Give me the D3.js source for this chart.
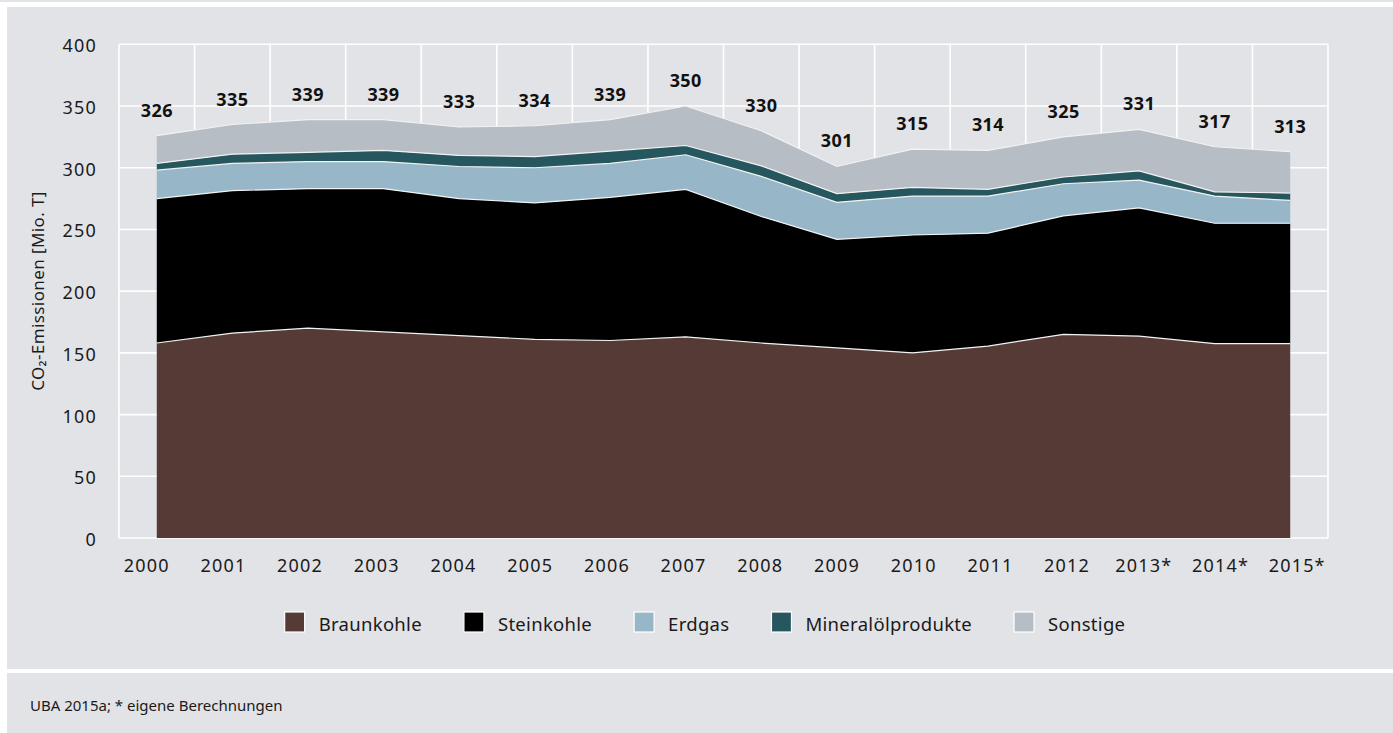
<!DOCTYPE html>
<html>
<head>
<meta charset="utf-8">
<script src="https://cdn.jsdelivr.net/npm/d3@7"></script>
<style>
  body { margin: 0; background: #fff; }
  svg { display: block; font-family: "Noto Sans", sans-serif; }
</style>
</head>
<body>
<div id="plot"></div>
<script>
// values (Mio. t CO2)
var years = ['2000','2001','2002','2003','2004','2005','2006','2007','2008','2009','2010','2011','2012','2013*','2014*','2015*'];
var braunkohle = [158,166,170,167,164,161,160,163,158,154,150,155.5,165,163.5,157.5,157.5];
var steinkohle = [117,115.5,113,116,111,110.5,116,119.5,102.5,88,95.5,91.5,96,104,97.5,97.5];
var erdgas     = [23,22,22,22,26,28.5,27.5,28,32.5,30,31.5,30,26,22.5,22,18.5];
var mineraloel = [5.5,7.5,7.5,9,9,9,10,7.5,8.5,7,7,5.5,5.5,7.5,3.5,6];
var sonstige   = [22.5,24,26.5,25,23,25,25.5,32,28.5,22,31,31.5,32.5,33.5,36.5,33.5];
var totals     = [326,335,339,339,333,334,339,350,330,301,315,314,325,331,317,313];
var yTicks = [0,50,100,150,200,250,300,350,400];

var seriesNames = ['Braunkohle','Steinkohle','Erdgas','Mineralölprodukte','Sonstige'];
var seriesColors = ['#553a36','#000000','#97b7c9','#26575e','#b6bdc4'];
var seriesValues = [braunkohle, steinkohle, erdgas, mineraloel, sonstige];

var W = 1393, H = 733;
var svg = d3.select('#plot').append('svg').attr('width', W).attr('height', H);

// background panels
svg.append('rect').attr('x',0).attr('y',0).attr('width',W).attr('height',2).attr('fill','#e2e3e7');
svg.append('rect').attr('x',7).attr('y',7).attr('width',W-7).attr('height',662).attr('fill','#e2e3e7');
svg.append('rect').attr('x',7).attr('y',673).attr('width',W-7).attr('height',60).attr('fill','#e2e3e7');

// scales
var x = d3.scaleBand().domain(years).range([119,1328]);
var xc = function(d){ return x(d) + x.bandwidth()/2; };
var xLab = d3.scalePoint().domain(years).range([146.7,1297.2]);
var y = d3.scaleLinear().domain([0,400]).range([538,44.3]);

// grid
var grid = svg.append('g');
grid.selectAll('.h').data(yTicks).enter().append('line')
  .attr('x1',119).attr('x2',1328)
  .attr('y1',function(d){return y(d);}).attr('y2',function(d){return y(d);})
  .attr('stroke','#fff').attr('stroke-width',1.6);
var bounds = years.map(function(d){return x(d);}).concat([1328]);
grid.selectAll('.v').data(bounds).enter().append('line')
  .attr('x1',function(d){return d;}).attr('x2',function(d){return d;})
  .attr('y1',y(400)).attr('y2',y(0))
  .attr('stroke','#fff').attr('stroke-width',1.6);

// stacked data
var table = years.map(function(yr,i){
  var row = {year: yr};
  seriesNames.forEach(function(s,j){ row[s] = seriesValues[j][i]; });
  return row;
});
var stack = d3.stack().keys(seriesNames)(table);

var area = d3.area()
  .x(function(d){return xc(d.data.year);})
  .y0(function(d){return y(d[0]);})
  .y1(function(d){return y(d[1]);});
var topLine = d3.line()
  .x(function(d){return xc(d.data.year);})
  .y(function(d){return y(d[1]);});

svg.append('g').selectAll('path').data(stack).enter().append('path')
  .attr('d', area)
  .attr('fill', function(d,i){return seriesColors[i];});
svg.append('g').selectAll('path').data(stack).enter().append('path')
  .attr('d', topLine)
  .attr('fill','none')
  .attr('stroke','#f2f2f2')
  .attr('stroke-width',1.2);

// total labels
svg.append('g').selectAll('text').data(totals).enter().append('text')
  .attr('x', function(d,i){return xc(years[i]);})
  .attr('y', function(d){return y(d) - 26;})
  .attr('text-anchor','middle')
  .attr('dominant-baseline','central')
  .attr('font-size',18).attr('font-weight','bold')
  .attr('letter-spacing',0.4)
  .attr('fill','#111')
  .text(function(d){return d;});

// y axis labels
svg.append('g').selectAll('text').data(yTicks).enter().append('text')
  .attr('x',97).attr('y',function(d){return y(d)+1;})
  .attr('text-anchor','end').attr('dominant-baseline','central')
  .attr('font-size',18).attr('letter-spacing',1.2)
  .attr('fill','#1a1a1a')
  .text(function(d){return d;});

// x axis labels
svg.append('g').selectAll('text').data(years).enter().append('text')
  .attr('x',function(d){return xLab(d);}).attr('y',565)
  .attr('text-anchor','middle').attr('dominant-baseline','central')
  .attr('font-size',18).attr('letter-spacing',1.2)
  .attr('fill','#1a1a1a')
  .text(function(d){return d;});

// y axis title
svg.append('text')
  .attr('transform','translate(37,291) rotate(-90)')
  .attr('text-anchor','middle').attr('dominant-baseline','central')
  .attr('font-size',17).attr('letter-spacing',0.4).attr('fill','#1a1a1a')
  .text('CO₂-Emissionen [Mio. T]');

// legend
var legend = svg.append('g');
var items = legend.selectAll('g').data(seriesNames).enter().append('g');
items.append('rect').attr('width',20).attr('height',20).attr('y',-10)
  .attr('fill',function(d,i){return seriesColors[i];})
  .attr('stroke','#fff').attr('stroke-width',1.2);
items.append('text').attr('x',34).attr('y',1)
  .attr('dominant-baseline','central')
  .attr('font-size',18.5).attr('letter-spacing',0.3).attr('fill','#1a1a1a')
  .text(function(d){return d;});
var pos = 0, starts = [];
items.each(function(){
  starts.push(pos);
  pos += 34 + d3.select(this).select('text').node().getComputedTextLength() + 42;
});
var total = pos - 42;
items.attr('transform',function(d,i){return 'translate(' + (starts[i] + 705 - total/2) + ',622)';});

// source
svg.append('text').attr('x',30).attr('y',705)
  .attr('dominant-baseline','central')
  .attr('font-size',15).attr('fill','#1a1a1a')
  .text('UBA 2015a; * eigene Berechnungen');
</script>
</body>
</html>
